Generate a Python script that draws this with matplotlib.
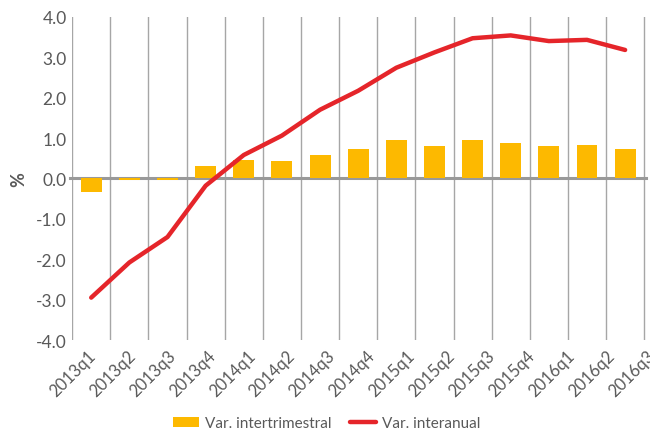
import numpy as np
import matplotlib
matplotlib.use("Agg")
import matplotlib.pyplot as plt

quarters = ["2013q1", "2013q2", "2013q3", "2013q4",
            "2014q1", "2014q2", "2014q3", "2014q4",
            "2015q1", "2015q2", "2015q3", "2015q4",
            "2016q1", "2016q2", "2016q3"]
var_intertrimestral = [-0.33, -0.05, -0.05, 0.31, 0.46, 0.42, 0.57, 0.74,
                       0.94, 0.80, 0.94, 0.87, 0.80, 0.84, 0.72]
var_interanual = [-2.95, -2.08, -1.45, -0.18, 0.58, 1.06, 1.70, 2.17,
                  2.74, 3.12, 3.47, 3.54, 3.40, 3.43, 3.18]

grey_text = "#595959"
plt.rcParams["font.family"] = ["Lato", "DejaVu Sans"]

fig = plt.figure(figsize=(6.5, 4.35), dpi=100)
ax = fig.add_axes([0.111, 0.216, 0.883, 0.743])

x = np.arange(len(quarters))
bars = ax.bar(x, var_intertrimestral, width=0.55, color="#FDB900",
              label="Var. intertrimestral", zorder=3)
line, = ax.plot(x, var_interanual, color="#E5252A", lw=3.2,
                solid_capstyle="round", label="Var. interanual", zorder=4)

# vertical gridlines between categories
for g in np.arange(-0.5, len(quarters), 1.0):
    ax.axvline(g, color="#a6a6a6", lw=1.0, zorder=1)
ax.axhline(0, color="#999999", lw=2.2, zorder=2, xmin=-0.004, clip_on=False)

ax.set_xlim(-0.5, len(quarters) - 0.5)
ax.set_ylim(-4, 4)
ax.set_yticks(np.arange(-4, 4.1, 1.0))
ax.set_yticklabels(["%.1f" % v for v in np.arange(-4, 4.1, 1.0)])

# category labels spread across the gridlines
label_pos = np.linspace(-0.1, 14.55, len(quarters))
ax.set_xticks(label_pos)
ax.set_xticklabels(quarters, rotation=45, ha="right", rotation_mode="anchor")
ax.tick_params(axis="x", length=0, pad=5, labelsize=12, labelcolor=grey_text)
ax.tick_params(axis="y", length=0, pad=4, labelsize=12.5, labelcolor=grey_text)

for s in ax.spines.values():
    s.set_visible(False)

ax.set_ylabel("%", fontsize=13, color=grey_text, labelpad=6, fontweight="bold")

leg = fig.legend([bars, line], ["Var. intertrimestral", "Var. interanual"],
                 loc="center", bbox_to_anchor=(0.503, 0.025),
                 ncol=2, frameon=False, fontsize=11, handlelength=1.7,
                 handleheight=0.6, columnspacing=1.2, handletextpad=0.4)
for t in leg.get_texts():
    t.set_color(grey_text)

fig.savefig("out.png", dpi=100)
